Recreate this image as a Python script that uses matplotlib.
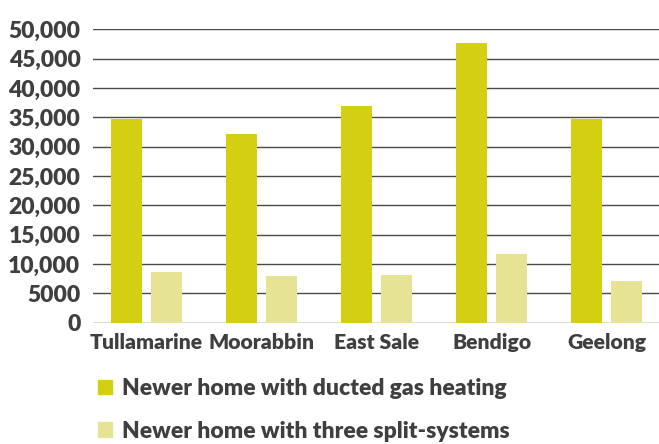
import matplotlib.pyplot as plt
import numpy as np
from matplotlib.patches import Patch

# Annual running cost by location
locations = ["Tullamarine", "Moorabbin", "East Sale", "Bendigo", "Geelong"]
ducted_gas = [34800, 32200, 36900, 47700, 34800]
split_systems = [8600, 7900, 8200, 11800, 7100]
y_ticks = [0, 5000, 10000, 15000, 20000, 25000, 30000, 35000, 40000, 45000, 50000]
y_tick_labels = ["0", "5000", "10,000", "15,000", "20,000", "25,000",
                 "30,000", "35,000", "40,000", "45,000", "50,000"]
series_names = ["Newer home with ducted gas heating",
                "Newer home with three split-systems"]

dark = "#d3cf12"
light = "#e7e394"
text_col = "#3f3f3f"

plt.rcParams["font.family"] = ["Lato", "DejaVu Sans"]
plt.rcParams["font.weight"] = "heavy"

fig = plt.figure(figsize=(6.59, 4.44), dpi=100)
ax = fig.add_axes([0.141, 0.273, 0.859, 0.661])

x = np.arange(len(locations))
w = 0.27
off = 0.175
ax.bar(x - off, ducted_gas, width=w, color=dark, zorder=3)
ax.bar(x + off, split_systems, width=w, color=light, zorder=3)

ax.set_ylim(0, 50000)
ax.set_xlim(-0.467, 4.455)
ax.set_yticks(y_ticks)
ax.set_yticklabels(y_tick_labels, fontsize=16.5)
ax.set_xticks(x)
ax.set_xticklabels(locations, fontsize=15.2)
ax.tick_params(length=0, colors=text_col)
ax.tick_params(axis="y", pad=9)
ax.tick_params(axis="x", pad=7)
for lab in ax.get_xticklabels() + ax.get_yticklabels():
    lab.set_fontweight("heavy")

ax.grid(axis="y", color="#4a4a4a", linewidth=1.0, zorder=0)
for s in ax.spines.values():
    s.set_visible(False)

handles = [Patch(color=dark), Patch(color=light)]
leg = fig.legend(handles, series_names, loc="upper left",
                 bbox_to_anchor=(0.118, 0.195), frameon=False,
                 handlelength=0.6, handleheight=0.6, handletextpad=0.45,
                 labelspacing=0.95, prop={"size": 16.5, "weight": "heavy"})
for t in leg.get_texts():
    t.set_color(text_col)

fig.savefig("out.png", dpi=100)
